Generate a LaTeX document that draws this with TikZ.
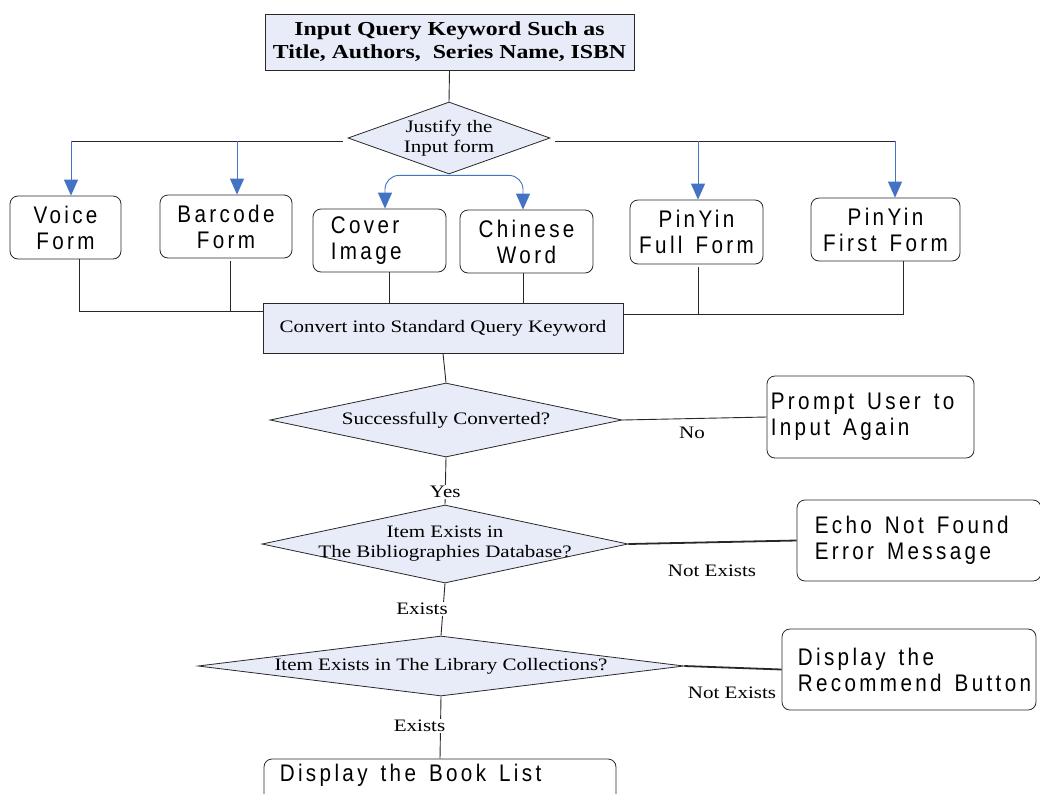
\documentclass[tikz,border=0pt]{standalone}
\usepackage{fontspec}
\setmainfont[FakeStretch=1.2]{Liberation Serif}
\newfontfamily\boxsans[FakeStretch=0.86,LetterSpace=14]{Liberation Sans}
\usetikzlibrary{shapes.geometric,arrows.meta}
\definecolor{boxfill}{RGB}{232,236,248}
\definecolor{arrowblue}{RGB}{68,114,196}
\definecolor{linegray}{RGB}{40,40,40}
\newcommand{\sansfont}{\boxsans\fontsize{24}{26}\selectfont\spaceskip=13pt\relax}
\tikzset{
  procbox/.style={draw=linegray, line width=0.8pt, fill=boxfill, rectangle, inner sep=2pt},
  decision/.style={draw=linegray, line width=0.8pt, fill=boxfill, diamond, inner sep=0pt},
  lbl/.style={font=\fontsize{17.5}{20}\selectfont, align=center, inner sep=0pt},
  sbox/.style={draw=linegray, line width=0.8pt, fill=white, rectangle, rounded corners=8pt,
    font=\sansfont, align=center, inner xsep=2pt},
  ltext/.style={font=\sansfont, align=left, anchor=west, inner sep=0pt, xshift=#1},
  conn/.style={draw=linegray, line width=0.9pt},
  thickconn/.style={draw=linegray, line width=1.8pt},
  bluearrow/.style={draw=arrowblue, line width=0.9pt, -{Triangle[length=16pt,width=14pt]}},
  edgelabel/.style={font=\fontsize{17.5}{20}\selectfont, inner sep=1pt}
}
\begin{document}
\begin{tikzpicture}[x=1pt,y=-1pt]
\useasboundingbox (0,0) rectangle (1040,793);
\fill[white] (0,0) rectangle (1040,793);

% top box
\node[procbox, minimum width=369pt, minimum height=56pt, align=center,
  font=\bfseries\fontsize{19.8}{23}\selectfont] (top) at (449.5,42)
  {Input Query Keyword Such as\\Title, Authors,\ \ Series Name, ISBN};

% justify diamond
\node[decision, minimum width=202pt, minimum height=72pt,
  label={[lbl]center:{Justify the\\Input form}}] (jus) at (449,138) {};

% input form boxes
\node[sbox, minimum width=111pt, minimum height=63pt] (voice) at (65.5,227.5) {Voice\\Form};
\node[sbox, minimum width=132pt, minimum height=63pt] (barcode) at (226,226.5) {Barcode\\Form};
\node[sbox, minimum width=133pt, minimum height=63pt,
  label={[ltext=18pt]west:{Cover\\Image}}] (cover) at (379.5,240.5) {};
\node[sbox, minimum width=133pt, minimum height=63pt] (chinese) at (526.5,241.5) {Chinese\\Word};
\node[sbox, minimum width=133pt, minimum height=64pt] (pyfull) at (696.5,232) {PinYin\\Full Form};
\node[sbox, minimum width=149pt, minimum height=63pt] (pyfirst) at (885.5,229.5) {PinYin\\First Form};

% convert box
\node[procbox, minimum width=360pt, minimum height=50pt, font=\fontsize{17.5}{20}\selectfont] (conv) at (443,328) {Convert into Standard Query Keyword};

% decisions
\node[decision, minimum width=352pt, minimum height=74pt,
  label={[lbl]center:{Successfully Converted?}}] (succ) at (446,420) {};
\node[decision, minimum width=366pt, minimum height=78pt,
  label={[lbl]center:{Item Exists in\\The Bibliographies Database?}}] (bib) at (445,544) {};
\node[decision, minimum width=486pt, minimum height=60pt,
  label={[lbl]center:{Item Exists in The Library Collections?}}] (lib) at (441,666) {};

% result boxes
\node[sbox, minimum width=207pt, minimum height=82pt,
  label={[ltext=4pt]west:{Prompt User to\\Input Again}}] (prompt) at (870.5,417) {};
\node[sbox, minimum width=244pt, minimum height=81pt,
  label={[ltext=18pt]west:{Echo Not Found\\Error Message}}] (echo) at (919,540.5) {};
\node[sbox, minimum width=254pt, minimum height=81pt,
  label={[ltext=16pt]west:{Display the\\Recommend Button}}] (rec) at (909,669.5) {};
\node[sbox, minimum width=352pt, minimum height=44pt,
  label={[ltext=16pt, yshift=6pt]west:{Display the Book List}}] (book) at (440,781) {};

% top to justify
\draw[conn] (top.south) -- (jus.north);

% branches from justify
\coordinate (jl) at ([xshift=-5pt,yshift=-3pt]jus.west);
\coordinate (jr) at ([xshift=5pt,yshift=-3pt]jus.east);
\coordinate (vtop) at ([xshift=5.5pt]voice.north);
\coordinate (btop) at ([xshift=11pt]barcode.north);
\coordinate (ftop) at ([xshift=1.5pt]pyfull.north);
\coordinate (stop) at ([xshift=9.5pt]pyfirst.north);
\draw[conn] (jl) -- (jl -| vtop);
\draw[conn] (jr) -- (jr -| stop);
\draw[bluearrow] (jl -| vtop) -- (vtop);
\draw[bluearrow] (jl -| btop) -- (btop);
\draw[bluearrow] (jr -| ftop) -- (ftop);
\draw[bluearrow] (jr -| stop) -- (stop);

% curved arrows to cover / chinese
\draw[bluearrow, rounded corners=14pt] ([yshift=-1pt]jus.south) -| ([xshift=5.5pt]cover.north);
\draw[bluearrow, rounded corners=14pt] ([yshift=-1pt]jus.south) -| ([xshift=-3.5pt]chinese.north);

% boxes to convert
\coordinate (cl) at ([yshift=17pt]conv.west);
\coordinate (cr) at ([yshift=14pt]conv.east);
\coordinate (vb) at ([xshift=13.5pt]voice.south);
\coordinate (bb) at ([xshift=4pt,yshift=-3pt]barcode.south);
\coordinate (cb) at ([xshift=9.5pt]cover.south);
\coordinate (wb) at ([xshift=-3.5pt]chinese.south);
\coordinate (fb) at ([xshift=1.5pt,yshift=-3pt]pyfull.south);
\coordinate (sb) at ([xshift=17.5pt]pyfirst.south);
\draw[conn] (vb) |- (cl);
\draw[conn] (bb) -- (bb |- cl);
\draw[conn] (cb) -- (cb |- conv.north);
\draw[conn] (wb) -- (wb |- conv.north);
\draw[conn] (sb) |- (cr);
\draw[conn] (fb) -- (fb |- cr);

% main flow
\draw[conn] (conv.south) -- (succ.north);
\draw[conn] (succ.east) -- (prompt.west);
\node[edgelabel] (nolbl) at (692,433) {No};
\draw[conn] (succ.south) -- node[edgelabel, pos=0.73, fill=white] (yeslbl) {Yes} (bib.north);
\draw[thickconn] (bib.east) -- (echo.west);
\node[edgelabel] (ne1) at (712,571) {Not Exists};
\draw[conn] (bib.south) -- node[edgelabel, pos=0.49, xshift=-21pt, fill=white] (ex1) {Exists} (lib.north);
\draw[thickconn] (lib.east) -- (rec.west);
\node[edgelabel] (ne2) at (732,693) {Not Exists};
\draw[conn] (lib.south) -- node[edgelabel, pos=0.476, xshift=-21pt, fill=white] (ex2) {Exists} (book.north);
\end{tikzpicture}
\end{document}
